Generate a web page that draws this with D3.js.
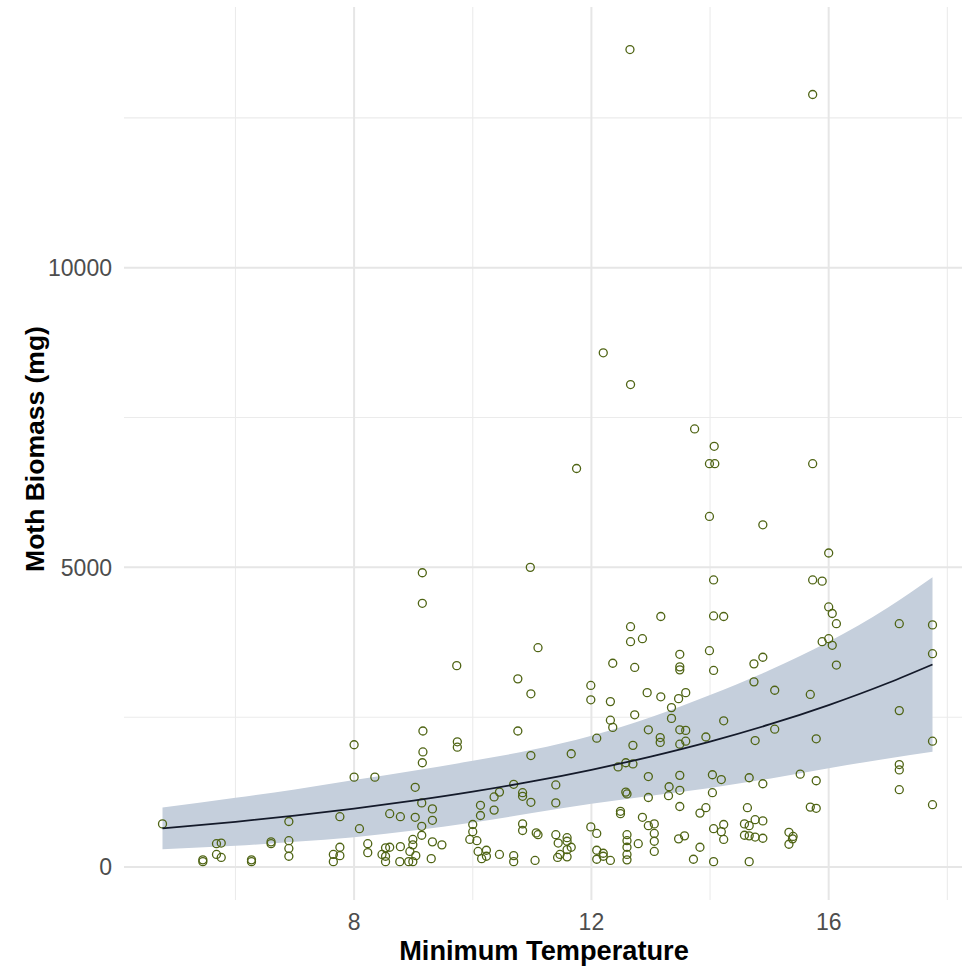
<!DOCTYPE html>
<html>
<head>
<meta charset="utf-8">
<script src="https://cdn.jsdelivr.net/npm/d3@7"></script>
<style>
  body { margin: 0; background: #fff; }
  svg { display: block; font-family: "Liberation Sans", Arial, sans-serif; }
</style>
</head>
<body>
<div id="holder"></div>
<script>
// observed points: minimum temperature and moth biomass (mg)
var temps = [
  4.77, 9.15, 9.15, 10.97, 11.10, 9.73, 10.76, 10.98, 9.16, 10.76, 9.74, 9.74, 8.00, 9.16, 9.15, 10.98,
  8.00, 8.35, 9.03, 10.69, 10.45, 10.36, 10.84, 10.84, 10.98, 9.14, 9.32, 10.13, 10.13, 10.36, 7.76, 8.60,
  8.78, 9.03, 9.32, 6.90, 8.09, 9.14, 10.00, 10.00, 10.84, 10.84, 11.07, 9.14, 8.99, 8.99, 9.32, 9.48,
  9.95, 10.07, 5.68, 5.76, 5.68, 5.76, 6.60, 6.60, 6.90, 6.90, 6.90, 5.45, 5.45, 6.27, 6.27, 7.65,
  7.65, 7.76, 7.76, 8.23, 8.23, 8.47, 8.53, 8.60, 8.53, 8.53, 8.78, 8.77, 8.94, 8.92, 8.99, 9.04,
  9.30, 10.09, 10.15, 10.23, 10.23, 10.45, 10.69, 10.69, 11.05,
  14.06, 15.73, 15.89, 13.17, 14.06, 14.23, 12.66, 12.66, 12.86, 16.00, 16.06, 16.13, 17.19, 17.75, 15.89, 16.00,
  16.06, 16.13, 17.75, 13.99, 14.06, 13.49, 13.49, 13.49, 14.74, 14.89, 12.36, 12.73, 14.74, 11.99, 11.99, 12.32,
  12.94, 13.17, 13.47, 13.59, 15.09, 15.69, 13.35, 12.73, 12.32, 12.36, 13.35, 14.23, 17.19, 12.09, 12.96, 13.16,
  13.16, 13.49, 13.59, 13.49, 13.59, 12.70, 13.93, 15.09, 14.76, 15.79, 17.75, 11.66, 12.45, 12.58, 12.70, 17.19,
  17.19, 12.96, 13.49, 14.04, 14.19, 14.66, 15.52, 15.79, 14.89, 11.40, 12.58, 12.60, 13.31, 13.30, 13.49, 14.04,
  17.19, 11.40, 12.96, 13.49, 13.93, 13.83, 14.63, 15.69, 15.79, 17.75, 12.49, 12.49, 12.86, 12.96, 13.06, 11.99,
  12.09, 11.10, 11.40, 11.44, 11.59, 11.59, 11.66, 11.59, 11.47, 11.43, 11.59, 12.09, 12.09, 12.20, 12.20, 12.32,
  12.60, 12.60, 12.60, 12.60, 12.60, 12.79, 13.06, 13.06, 13.06, 13.47, 13.57, 13.83, 13.72, 14.06, 14.23, 14.19,
  14.23, 14.06, 14.58, 14.66, 14.76, 14.89, 14.58, 14.66, 14.76, 14.89, 14.66, 15.33, 15.40, 15.33, 15.39,
  12.20, 12.66, 13.74, 14.07, 13.99, 14.08, 15.73, 11.75, 13.99, 14.89, 16.00, 12.65, 15.73
];
var biomass = [
  720, 4910, 4400, 5000, 3660, 3360, 3140, 2890, 2270, 2270, 2090, 2000, 2040, 1920, 1740, 1860,
  1500, 1500, 1330, 1380, 1250, 1170, 1240, 1180, 1080, 1070, 970, 1030, 860, 950, 840, 890,
  840, 830, 780, 760, 640, 680, 710, 590, 720, 610, 570, 530, 460, 370, 420, 370,
  460, 440, 390, 400, 210, 160, 420, 390, 440, 310, 180, 120, 90, 120, 90, 210,
  90, 330, 190, 390, 240, 210, 320, 330, 180, 90, 340, 90, 260, 90, 90, 190,
  140, 260, 140, 280, 180, 210, 190, 90, 110,
  4790, 4790, 4770, 4180, 4190, 4180, 4010, 3760, 3810, 4340, 4230, 4060, 4060, 4040, 3760, 3810,
  3700, 3370, 3560, 3610, 3280, 3550, 3340, 3290, 3390, 3500, 3400, 3330, 3090, 3030, 2790, 2760,
  2910, 2840, 2810, 2910, 2950, 2880, 2660, 2540, 2450, 2330, 2480, 2440, 2610, 2150, 2290, 2160,
  2080, 2290, 2280, 2050, 2100, 2030, 2170, 2300, 2110, 2140, 2100, 1890, 1670, 1740, 1720, 1710,
  1620, 1510, 1530, 1540, 1460, 1490, 1550, 1440, 1390, 1370, 1250, 1220, 1340, 1190, 1280, 1240,
  1290, 1070, 1160, 1010, 990, 900, 990, 1000, 980, 1040, 930, 890, 830, 690, 720, 670,
  560, 540, 540, 400, 490, 430, 330, 290, 210, 160, 170, 280, 130, 230, 180, 110,
  540, 440, 330, 210, 120, 390, 560, 430, 260, 470, 520, 330, 130, 640, 710, 590,
  460, 90, 720, 690, 790, 770, 530, 520, 500, 480, 90, 580, 510, 380, 470,
  8580, 8050, 7310, 7020, 6730, 6730, 6730, 6650, 5850, 5710, 5240, 13640, 12890
];

// fitted curve and confidence band
var fitTemp  = [4.77, 6, 7, 8, 9, 10, 11, 12, 13, 14, 15, 16, 17, 17.75];
var fitMean  = [645, 755, 857, 974, 1107, 1257, 1428, 1623, 1844, 2094, 2379, 2703, 3071, 3380];
var fitLower = [297, 355, 420, 497, 609, 742, 900, 1055, 1189, 1319, 1475, 1649, 1812, 1925];
var fitUpper = [993, 1155, 1294, 1451, 1605, 1772, 1956, 2191, 2499, 2869, 3283, 3757, 4330, 4835];

var xMajor = [8, 12, 16];
var xMinor = [6, 10, 14, 18];
var yMajor = [0, 5000, 10000];
var yMinor = [2500, 7500, 12500];

var width = 962, height = 970;
var panel = {left: 124, right: 971, top: 7, bottom: 900};

var x = d3.scaleLinear().domain([4.121, 18.399]).range([panel.left, panel.right]);
var y = d3.scaleLinear().domain([-550, 14350]).range([panel.bottom, panel.top]);

var svg = d3.select('#holder').append('svg').attr('width', width).attr('height', height);

// grid
var grid = svg.append('g');
grid.selectAll('.xminor').data(xMinor).enter().append('line')
  .attr('x1', d => x(d)).attr('x2', d => x(d)).attr('y1', panel.top).attr('y2', panel.bottom)
  .attr('stroke', '#ebebeb').attr('stroke-width', 1.1);
grid.selectAll('.yminor').data(yMinor).enter().append('line')
  .attr('x1', panel.left).attr('x2', panel.right).attr('y1', d => y(d)).attr('y2', d => y(d))
  .attr('stroke', '#ebebeb').attr('stroke-width', 1.1);
grid.selectAll('.xmajor').data(xMajor).enter().append('line')
  .attr('x1', d => x(d)).attr('x2', d => x(d)).attr('y1', panel.top).attr('y2', panel.bottom)
  .attr('stroke', '#e6e6e6').attr('stroke-width', 2);
grid.selectAll('.ymajor').data(yMajor).enter().append('line')
  .attr('x1', panel.left).attr('x2', panel.right).attr('y1', d => y(d)).attr('y2', d => y(d))
  .attr('stroke', '#e6e6e6').attr('stroke-width', 2);

// confidence ribbon
var band = fitTemp.map((t, i) => ({t: t, m: fitMean[i], lo: fitLower[i], hi: fitUpper[i]}));
svg.append('path').datum(band)
  .attr('d', d3.area().x(d => x(d.t)).y0(d => y(d.lo)).y1(d => y(d.hi)).curve(d3.curveMonotoneX))
  .attr('fill', '#c5cfdc');

// points
var pts = temps.map((t, i) => ({t: t, v: biomass[i]}));
svg.append('g').selectAll('circle').data(pts).enter().append('circle')
  .attr('cx', d => x(d.t)).attr('cy', d => y(d.v)).attr('r', 4)
  .attr('fill', 'none').attr('stroke', '#4f6414').attr('stroke-width', 1.3);

// fitted line
svg.append('path').datum(band)
  .attr('d', d3.line().x(d => x(d.t)).y(d => y(d.m)).curve(d3.curveMonotoneX))
  .attr('fill', 'none').attr('stroke', '#141a2a').attr('stroke-width', 1.8);

// axes text
svg.append('g').selectAll('text').data(xMajor).enter().append('text')
  .attr('x', d => x(d)).attr('y', 930).attr('text-anchor', 'middle')
  .attr('font-size', 23).attr('fill', '#4d4d4d').text(d => d);
svg.append('g').selectAll('text').data(yMajor).enter().append('text')
  .attr('x', 112).attr('y', d => y(d)).attr('dy', '0.36em').attr('text-anchor', 'end')
  .attr('font-size', 23).attr('fill', '#4d4d4d').text(d => d);

svg.append('text').attr('x', 544).attr('y', 960).attr('text-anchor', 'middle')
  .attr('font-size', 27.2).attr('font-weight', 'bold').attr('fill', '#000')
  .text('Minimum Temperature');
svg.append('text').attr('transform', 'translate(44,449) rotate(-90)').attr('text-anchor', 'middle')
  .attr('font-size', 26.5).attr('font-weight', 'bold').attr('fill', '#000')
  .text('Moth Biomass (mg)');
</script>
</body>
</html>
